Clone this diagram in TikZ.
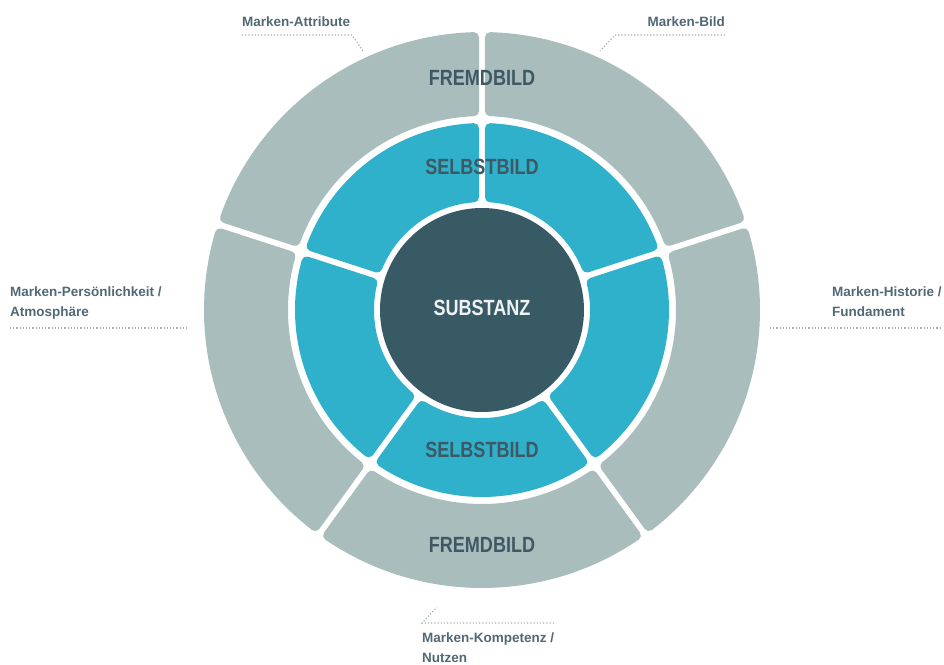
\documentclass[tikz,border=0pt]{standalone}
\usepackage{fontspec}
\setmainfont{Liberation Sans}[FakeStretch=0.82]
\newfontfamily\labelfont{Liberation Sans}
\usepackage{xcolor}
\definecolor{ringgray}{HTML}{A9BDBC}
\definecolor{ringcyan}{HTML}{2FB1CC}
\definecolor{coredark}{HTML}{385A65}
\definecolor{labeltext}{HTML}{3E5864}
\definecolor{dotgray}{HTML}{A3B1B6}

% half of the white gap plus the corner radius
\newcommand{\gaphalf}{8}
% one rounded ring piece: start angle, end angle, inner r, outer r, style
\newcommand{\ringpiece}[5]{%
  \pgfmathsetmacro{\ia}{#1+asin(\gaphalf/#3)}
  \pgfmathsetmacro{\ib}{#2-asin(\gaphalf/#3)}
  \pgfmathsetmacro{\oa}{#1+asin(\gaphalf/#4)}
  \pgfmathsetmacro{\ob}{#2-asin(\gaphalf/#4)}
  \filldraw [#5] (\ia:#3pt) -- (\oa:#4pt)
    arc [start angle = \oa, end angle = \ob, radius = #4pt]
    -- (\ib:#3pt)
    arc [start angle = \ib, end angle = \ia, radius = #3pt] -- cycle;
}

\tikzset{
  outerpart/.style = {fill = ringgray, draw = ringgray, line width = 10pt, line join = round},
  innerpart/.style = {fill = ringcyan, draw = ringcyan, line width = 10pt, line join = round},
  ringtext/.style = {font = \bfseries\fontsize{22}{24}\selectfont, text = labeltext},
  sidetext/.style = {font = \labelfont\bfseries\fontsize{13.5}{20}\selectfont, text = labeltext!90!white, align = left, inner sep = 0pt},
  leader/.style = {draw = dotgray, line width = 1.2pt, dotted}
}

\begin{document}
\begin{tikzpicture}
        \useasboundingbox (-482pt, -354pt) rectangle (462pt, 310pt);

        % Rings
        \foreach \k in {0,...,4} {
            \pgfmathsetmacro{\sa}{18 + 72*\k}
            \pgfmathsetmacro{\sb}{90 + 72*\k}
            \ringpiece{\sa}{\sb}{199}{273}{outerpart}
            \ringpiece{\sa}{\sb}{113}{182}{innerpart}
        }
        \fill [coredark] (0pt, 0pt) circle (102pt);

        % Nodes
        \node [ringtext] (fremdtop) at (0pt, 232pt) {FREMDBILD};
        \node [ringtext] (selbsttop) at (0pt, 143pt) {SELBSTBILD};
        \node [ringtext, text = white!92!coredark] (substanz) at (0pt, 2pt) {SUBSTANZ};
        \node [ringtext] (selbstbot) at (0pt, -140pt) {SELBSTBILD};
        \node [ringtext] (fremdbot) at (0pt, -235pt) {FREMDBILD};

        % Labels (base = last line)
        \node [sidetext, anchor = base west] (attribute) at (-240pt, 283pt) {Marken-Attribute};
        \node [sidetext, anchor = base east] (bild) at (243pt, 283pt) {Marken-Bild};
        \node [sidetext, anchor = base west] (persoenlich) at (-472pt, -6pt) {Marken-Persönlichkeit /\\Atmosphäre};
        \node [sidetext, anchor = base west] (historie) at (350pt, -6pt) {Marken-Historie /\\Fundament};
        \node [sidetext, anchor = base west] (kompetenz) at (-60pt, -352pt) {Marken-Kompetenz /\\Nutzen};

        % Leader ends
        \coordinate (attribute-a) at (-240pt, 275pt);
        \coordinate (attribute-b) at (-130pt, 275pt);
        \coordinate (attribute-c) at (-119pt, 259pt);
        \coordinate (bild-a) at (243pt, 275pt);
        \coordinate (bild-b) at (133pt, 275pt);
        \coordinate (bild-c) at (118pt, 259pt);
        \coordinate (persoenlich-a) at (-472pt, -18pt);
        \coordinate (persoenlich-b) at (-294pt, -18pt);
        \coordinate (historie-a) at (288pt, -18pt);
        \coordinate (historie-b) at (458pt, -18pt);
        \coordinate (kompetenz-a) at (72pt, -313pt);
        \coordinate (kompetenz-b) at (-60pt, -313pt);
        \coordinate (kompetenz-c) at (-45pt, -297pt);

        % Lines
        \draw [leader] (attribute-a) -- (attribute-b) -- (attribute-c);
        \draw [leader] (bild-a) -- (bild-b) -- (bild-c);
        \draw [leader] (persoenlich-a) -- (persoenlich-b);
        \draw [leader] (historie-a) -- (historie-b);
        \draw [leader] (kompetenz-a) -- (kompetenz-b) -- (kompetenz-c);

    \end{tikzpicture}
\end{document}
